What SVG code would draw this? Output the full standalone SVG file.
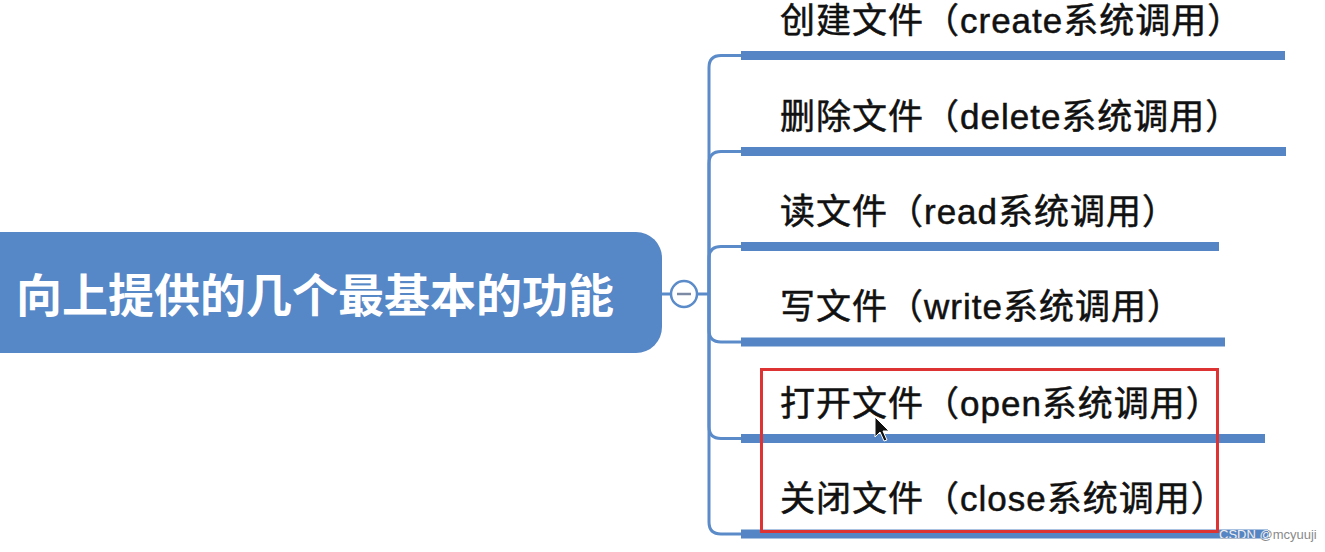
<svg xmlns="http://www.w3.org/2000/svg" width="1325" height="552" viewBox="0 0 1325 552">
<style>
.lbl{font-family:"Liberation Sans","Noto Sans CJK SC",sans-serif;font-size:35px;letter-spacing:1px;fill:#111;stroke:#111;stroke-width:0.5}
.root{font-family:"Liberation Sans","Noto Sans CJK SC",sans-serif;font-size:46px;font-weight:bold;fill:#fff}
.bar{stroke:#5585c5;stroke-width:9;fill:none}
.conn{stroke:#5b8bc9;stroke-width:3;fill:none}
.wm{font-family:"Liberation Sans",sans-serif;font-size:13px}
</style>
<defs>
<clipPath id="onbar"><rect x="741" y="529.5" width="527" height="9"/></clipPath>
</defs>
<rect width="1325" height="552" fill="#fff"/>
<g id="root">
<rect x="-30" y="232" width="692" height="121" rx="26" fill="#5687c6"/>
<text class="root" x="315" y="312" text-anchor="middle">向上提供的几个最基本的功能</text>
</g>
<g id="connectors">
<line class="conn" x1="662" y1="294" x2="671" y2="294"/>
<line class="conn" x1="697" y1="294" x2="709" y2="294"/>
<path class="conn" d="M709 294 V67.5 Q709 55.5 721 55.5 H742"/>
<path class="conn" d="M709 294 V163.5 Q709 151.5 721 151.5 H742"/>
<path class="conn" d="M709 294 V258.5 Q709 246.5 721 246.5 H742"/>
<path class="conn" d="M709 294 V330 Q709 342 721 342 H742"/>
<path class="conn" d="M709 294 V426.5 Q709 438.5 721 438.5 H742"/>
<path class="conn" d="M709 294 V522 Q709 534 721 534 H742"/>
</g>
<g id="collapse">
<circle cx="684" cy="294" r="13" fill="#fff" stroke="#5b8bc9" stroke-width="2.5"/>
<line x1="677" y1="294" x2="691" y2="294" stroke="#7d8aa3" stroke-width="2.5"/>
</g>
<g id="n1">
<text class="lbl" x="780" y="33">创建文件（create系统调用）</text>
<line class="bar" x1="741" y1="55.5" x2="1285" y2="55.5"/>
</g>
<g id="n2">
<text class="lbl" x="780" y="129">删除文件（delete系统调用）</text>
<line class="bar" x1="741" y1="151.5" x2="1286" y2="151.5"/>
</g>
<g id="n3">
<text class="lbl" x="780" y="224">读文件（read系统调用）</text>
<line class="bar" x1="741" y1="246.5" x2="1219" y2="246.5"/>
</g>
<g id="n4">
<text class="lbl" x="780" y="319">写文件（write系统调用）</text>
<line class="bar" x1="741" y1="342" x2="1225" y2="342"/>
</g>
<g id="n5">
<text class="lbl" x="780" y="416">打开文件（open系统调用）</text>
<line class="bar" x1="741" y1="438.5" x2="1265" y2="438.5"/>
</g>
<g id="n6">
<text class="lbl" x="780" y="511">关闭文件（close系统调用）</text>
<line class="bar" x1="741" y1="534" x2="1268" y2="534"/>
</g>
<rect id="highlight" x="761.5" y="369.5" width="456" height="162" fill="none" stroke="#dd3333" stroke-width="3"/>
<path id="cursor" d="M875 417 L875 437 L880 432 L884 441 L887 440 L883 431 L889 431 Z" fill="#111" stroke="#fff" stroke-width="1"/>
<g id="watermark">
<text class="wm" x="1219" y="539" fill="#8a8a8a">CSDN @mcyuuji</text>
<text class="wm" x="1219" y="539" fill="#e8eef8" clip-path="url(#onbar)">CSDN @mcyuuji</text>
</g>
</svg>
